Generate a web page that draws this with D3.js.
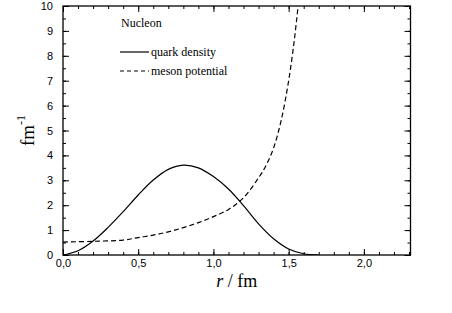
<!DOCTYPE html>
<html>
<head>
<meta charset="utf-8">
<script src="https://cdn.jsdelivr.net/npm/d3@7"></script>
<style>
  body { margin: 0; background: #fff; }
  svg { display: block; }
</style>
</head>
<body>
<div id="chart"></div>
<script>
(function(d3) {
    'use strict'

    // values
    var quarkR = [0, 0.1, 0.2, 0.3, 0.4, 0.5, 0.6, 0.7, 0.8, 0.9, 1.0, 1.1, 1.2, 1.3, 1.4, 1.5, 1.6, 1.7];
    var quarkDensity = [0, 0.17, 0.56, 1.11, 1.74, 2.41, 3.01, 3.44, 3.61, 3.5, 3.15, 2.65, 1.98, 1.25, 0.65, 0.24, 0.05, 0];
    var mesonR = [0, 0.2, 0.4, 0.5, 0.6, 0.7, 0.8, 0.9, 1.0, 1.1, 1.2, 1.3, 1.35, 1.4, 1.45, 1.5, 1.537, 1.563];
    var mesonPotential = [0.52, 0.55, 0.6, 0.7, 0.8, 0.93, 1.1, 1.3, 1.54, 1.83, 2.3, 3.1, 3.6, 4.3, 5.4, 7.0, 8.6, 10];
    var xTicks = [0, 0.5, 1.0, 1.5, 2.0];
    var yTicks = [0, 1, 2, 3, 4, 5, 6, 7, 8, 9, 10];
    var legendLabels = ['quark density', 'meson potential'];

    var width = 452;
    var height = 313;
    var margin = {left: 63, top: 6, right: 41.5, bottom: 58};
    var serif = 'Liberation Serif, Times New Roman, serif';

    var svg = d3.select('#chart')
        .append('svg')
        .attr('width', width)
        .attr('height', height);

    var x = d3.scaleLinear()
        .domain([0, 2.31])
        .range([margin.left, width - margin.right]);

    var y = d3.scaleLinear()
        .domain([0, 10])
        .range([height - margin.bottom, margin.top]);

    var fmt = function(d) { return d3.format('.1f')(d).replace('.', ','); };
    var xMinor = d3.range(0, 2.31, 0.1);
    var yMinor = d3.range(0, 10.01, 0.5);

    // plot clip
    svg.append('clipPath').attr('id', 'clip')
        .append('rect')
        .attr('x', x(0)).attr('y', y(10))
        .attr('width', x(2.31) - x(0)).attr('height', y(0) - y(10));

    // curves
    var line = d3.line()
        .x(function(d) { return x(d[0]); })
        .y(function(d) { return y(d[1]); })
        .curve(d3.curveCatmullRom);

    svg.append('path')
        .datum(d3.zip(quarkR, quarkDensity))
        .attr('d', line)
        .attr('clip-path', 'url(#clip)')
        .attr('fill', 'none')
        .attr('stroke', '#000')
        .attr('stroke-width', 1.2);

    svg.append('path')
        .datum(d3.zip(mesonR, mesonPotential))
        .attr('d', line)
        .attr('clip-path', 'url(#clip)')
        .attr('fill', 'none')
        .attr('stroke', '#000')
        .attr('stroke-width', 1.2)
        .attr('stroke-dasharray', '5,3');

    // axes, ticks inside
    function addAxis(axis, transform, labels) {
        var g = svg.append('g')
            .attr('transform', transform)
            .call(axis);
        g.select('.domain').remove();
        g.selectAll('line').attr('stroke', '#000').attr('stroke-width', 1);
        g.selectAll('text')
            .attr('font-family', 'Liberation Sans, Arial, sans-serif')
            .attr('font-size', 11)
            .attr('fill', '#000');
        if (!labels) g.selectAll('text').remove();
        return g;
    }

    var bottom = 'translate(0,' + y(0) + ')';
    var top = 'translate(0,' + y(10) + ')';
    var left = 'translate(' + x(0) + ',0)';
    var right = 'translate(' + x(2.31) + ',0)';

    addAxis(d3.axisBottom(x).tickValues(xMinor).tickSize(-3).tickFormat(''), bottom, false);
    addAxis(d3.axisTop(x).tickValues(xMinor).tickSize(-3).tickFormat(''), top, false);
    addAxis(d3.axisLeft(y).tickValues(yMinor).tickSize(-3).tickFormat(''), left, false);
    addAxis(d3.axisRight(y).tickValues(yMinor).tickSize(-3).tickFormat(''), right, false);

    var xb = addAxis(d3.axisBottom(x).tickValues(xTicks).tickSize(-6).tickPadding(6).tickFormat(fmt), bottom, true);
    addAxis(d3.axisTop(x).tickValues(xTicks).tickSize(-6).tickFormat(''), top, false);
    addAxis(d3.axisLeft(y).tickValues(yTicks).tickSize(-6).tickPadding(10).tickFormat(d3.format('d')), left, true);
    addAxis(d3.axisRight(y).tickValues(yTicks).tickSize(-6).tickFormat(''), right, false);
    xb.selectAll('text').attr('dy', '0.55em');

    // frame
    svg.append('rect')
        .attr('x', x(0)).attr('y', y(10))
        .attr('width', x(2.31) - x(0)).attr('height', y(0) - y(10))
        .attr('fill', 'none')
        .attr('stroke', '#000')
        .attr('stroke-width', 1.3);

    // axis titles
    var xt = svg.append('text')
        .attr('x', (x(0) + x(2.31)) / 2)
        .attr('y', 287)
        .attr('text-anchor', 'middle')
        .attr('font-family', serif)
        .attr('font-size', 18);
    xt.append('tspan').attr('font-style', 'italic').text('r');
    xt.append('tspan').text(' / fm');

    var yt = svg.append('text')
        .attr('transform', 'translate(34,' + ((y(0) + y(10)) / 2) + ') rotate(-90)')
        .attr('text-anchor', 'middle')
        .attr('font-family', serif)
        .attr('font-size', 19);
    yt.append('tspan').text('fm');
    yt.append('tspan').attr('font-size', 12).attr('dy', -9).text('-1');

    // legend
    svg.append('text')
        .attr('x', 121).attr('y', 27)
        .attr('font-family', serif).attr('font-size', 12)
        .text('Nucleon');

    var legend = svg.selectAll('.legend')
        .data(legendLabels)
        .enter()
        .append('g')
        .attr('transform', function(d, i) { return 'translate(120,' + (52 + i * 19) + ')'; });

    legend.append('line')
        .attr('x1', 0).attr('x2', 29)
        .attr('stroke', '#000')
        .attr('stroke-width', 1.2)
        .attr('stroke-dasharray', function(d, i) { return i ? '4,3' : null; });

    legend.append('text')
        .attr('x', 31).attr('y', 3.5)
        .attr('font-family', serif).attr('font-size', 12)
        .text(function(d) { return d; });

})(window.d3);
</script>
</body>
</html>
